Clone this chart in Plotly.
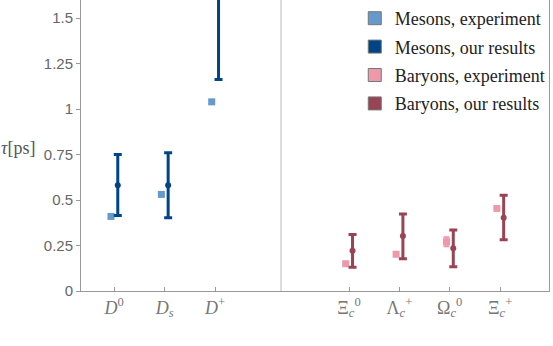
import plotly.graph_objects as go

# tick labels and x positions of the particles
meson_labels = ['<i>D</i><sup>0</sup>', '<i>D</i><sub><i>s</i></sub>', '<i>D</i><sup>+</sup>']
baryon_labels = ['Ξ<sub><i>c</i></sub><sup>0</sup>', 'Λ<sub><i>c</i></sub><sup>+</sup>',
                 'Ω<sub><i>c</i></sub><sup>0</sup>', 'Ξ<sub><i>c</i></sub><sup>+</sup>']
meson_x = [1, 2, 3]
baryon_x = [5.66, 6.66, 7.66, 8.66]

# experimental lifetimes (ps)
meson_exp = [0.410, 0.531, 1.040]
meson_exp_err = [0.002, 0.004, 0.010]
baryon_exp = [0.150, 0.202, 0.271, 0.454]
baryon_exp_err = [0.003, 0.002, 0.025, 0.005]

# our results (ps)
meson_res = [0.582, 0.582, 1.90]
meson_res_lo = [0.415, 0.403, 1.163]
meson_res_hi = [0.751, 0.760, 2.60]
baryon_res = [0.221, 0.302, 0.235, 0.403]
baryon_res_lo = [0.130, 0.178, 0.134, 0.282]
baryon_res_hi = [0.311, 0.423, 0.335, 0.527]

c_mexp = '#6699CC'
c_mres = '#004488'
c_bexp = '#EE99AA'
c_bres = '#994455'
off_exp = -0.065
off_res = 0.07

fig = go.Figure()

def add_exp(xs, ys, errs, color):
    fig.add_trace(go.Scatter(
        x=[x + off_exp for x in xs], y=ys, mode='markers',
        marker=dict(symbol='square', size=7, color=color),
        error_y=dict(type='data', array=errs, color=color, thickness=2, width=3),
        showlegend=False))

def add_res(xs, ys, lo, hi, color):
    fig.add_trace(go.Scatter(
        x=[x + off_res for x in xs], y=ys, mode='markers',
        marker=dict(symbol='circle', size=6, color=color),
        error_y=dict(type='data', symmetric=False,
                     array=[h - y for h, y in zip(hi, ys)],
                     arrayminus=[y - l for l, y in zip(lo, ys)],
                     color=color, thickness=3, width=4),
        showlegend=False))

add_exp(meson_x, meson_exp, meson_exp_err, c_mexp)
add_res(meson_x, meson_res, meson_res_lo, meson_res_hi, c_mres)
add_exp(baryon_x, baryon_exp, baryon_exp_err, c_bexp)
add_res(baryon_x, baryon_res, baryon_res_lo, baryon_res_hi, c_bres)

# legend entries
for i, (name, col) in enumerate([('Mesons, experiment', c_mexp), ('Mesons, our results', c_mres),
                                 ('Baryons, experiment', c_bexp), ('Baryons, our results', c_bres)]):
    fig.add_trace(go.Scatter(
        x=[None], y=[None], mode='markers', name=name, legendgroup='g%d' % i,
        marker=dict(symbol='square', size=13, color=col,
                    line=dict(color='#777777', width=1))))

# divider between mesons and baryons
fig.add_shape(type='line', xref='x', yref='paper', x0=4.31, x1=4.31, y0=0, y1=1,
              line=dict(color='#BBBBBB', width=1))

fig.add_annotation(text='<i>τ</i>[ps]', xref='paper', yref='paper', x=-0.094, y=0.491,
                   xanchor='right', yanchor='middle', showarrow=False,
                   font=dict(family='Liberation Serif', size=18, color='#555555'))

fig.update_xaxes(range=[0.34, 9.63], tickvals=meson_x + baryon_x,
                 ticktext=meson_labels + baryon_labels,
                 ticks='inside', ticklen=4, tickcolor='#999999',
                 showline=True, linecolor='#999999', mirror=True, showgrid=False,
                 zeroline=False, automargin=False,
                 tickfont=dict(family='Liberation Serif', size=18, color='#777777'))
fig.update_yaxes(range=[0, 1.6], tickvals=[0, 0.25, 0.5, 0.75, 1, 1.25, 1.5],
                 ticktext=['0', '0.25', '0.5', '0.75', '1', '1.25', '1.5'],
                 ticks='outside', ticklen=4, tickcolor='#999999',
                 showline=True, linecolor='#999999', mirror=True, showgrid=False,
                 zeroline=False, automargin=False,
                 tickfont=dict(family='Liberation Sans', size=15, color='#666666'))

fig.update_layout(
    width=553, height=346,
    margin=dict(l=81, r=4, t=0, b=55),
    plot_bgcolor='white', paper_bgcolor='white',
    legend=dict(x=0.585, y=1.0, xanchor='left', yanchor='top',
                bgcolor='rgba(0,0,0,0)', traceorder='grouped', tracegroupgap=2,
                font=dict(family='Liberation Serif', size=18, color='#222222')),
)

fig.write_html('out.html', config={'displayModeBar': False},
               post_script="document.body.style.margin='0';")
